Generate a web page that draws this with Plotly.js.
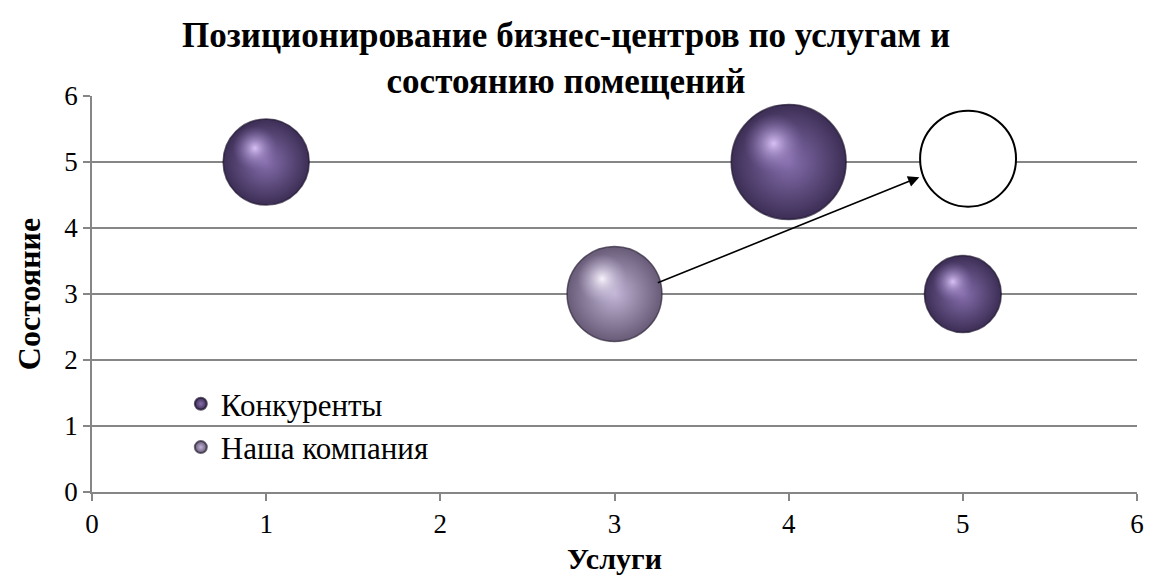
<!DOCTYPE html>
<html>
<head>
<meta charset="utf-8">
<script src="https://cdn.plot.ly/plotly-3.0.1.min.js"></script>
<style>.modebar-container{display:none !important;}</style>
</head>
<body style="margin:0;background:#fff">
<div id="chart" style="width:1149px;height:587px"></div>
<script>
// ---- data ----
const seriesNames = ["Конкуренты", "Наша компания"];
const compX = [1, 4, 5];
const compY = [5, 5, 3];
const compSize = [7.4, 13.2, 5.9];
const ourX = [3];
const ourY = [3];
const ourSize = [9.0];
const targetX = [5.03];
const targetY = [5.05];
const targetSize = [9.2];
const arrowFrom = [3.24, 3.16];
const arrowTo = [4.75, 4.77];
const xTicks = [0, 1, 2, 3, 4, 5, 6];
const yTicks = [0, 1, 2, 3, 4, 5, 6];
const titleText = "Позиционирование бизнес-центров по услугам и<br>состоянию помещений";
const xTitle = "Услуги";
const yTitle = "Состояние";

const SERIF = "Liberation Serif";
const SREF = 0.002;
// plot geometry (px per data unit) used only for the sphere highlight decoration
const PX_X = 1045 / 6, PX_Y = 396 / 6;
function diam(v) { return Math.sqrt(v / 0.001); }
function glint(xs, ys, ss, cIn, cOut) {
  return {
    type: "scatter", mode: "markers", showlegend: false, hoverinfo: "skip",
    x: xs.map((x, i) => x - 0.13 * diam(ss[i]) / PX_X),
    y: ys.map((y, i) => y + 0.16 * diam(ss[i]) / PX_Y),
    marker: {size: ss.map(s => 0.52 * diam(s)), sizemode: "diameter", color: cOut, opacity: 1,
      gradient: {type: "radial", color: cIn}, line: {width: 0}}
  };
}

const traces = [
  {
    type: "scatter", mode: "markers", name: seriesNames[0],
    x: compX, y: compY,
    marker: {size: compSize, sizemode: "area", sizeref: SREF, color: "#3c2e55", opacity: 1,
      gradient: {type: "radial", color: "#876fae"}, line: {width: 1.5, color: "rgba(30,20,45,0.7)"}},
    hoverinfo: "skip"
  },
  {
    type: "scatter", mode: "markers", name: seriesNames[1],
    x: ourX, y: ourY,
    marker: {size: ourSize, sizemode: "area", sizeref: SREF, color: "#675b78", opacity: 1,
      gradient: {type: "radial", color: "#c2b5d6"}, line: {width: 1.5, color: "rgba(45,36,56,0.7)"}},
    hoverinfo: "skip"
  },
  glint(compX, compY, compSize, "rgba(220,198,250,0.95)", "rgba(135,111,174,0)"),
  glint(ourX, ourY, ourSize, "rgba(252,248,255,0.95)", "rgba(194,181,214,0)"),
  {
    type: "scatter", mode: "markers", showlegend: false,
    x: targetX, y: targetY,
    marker: {size: targetSize, sizemode: "area", sizeref: SREF, color: "#ffffff", opacity: 1,
      line: {width: 2, color: "#000"}},
    hoverinfo: "skip"
  }
];

const axisCommon = {
  range: [0, 6], showline: true, linecolor: "#868686", linewidth: 1.5,
  ticks: "outside", ticklen: 7, tickcolor: "#868686", tickwidth: 1.5,
  tickfont: {family: SERIF, size: 27, color: "#000"}, zeroline: false,
  fixedrange: true
};

const layout = {
  width: 1149, height: 587,
  margin: {l: 92, r: 12, t: 96, b: 95},
  paper_bgcolor: "#fff", plot_bgcolor: "#fff",
  font: {family: SERIF},
  title: {text: titleText, x: 0.4536, xref: "paper", xanchor: "center",
    y: 1 - 47/587, yref: "container", yanchor: "top",
    font: {family: SERIF, size: 35, color: "#000", weight: "bold"}},
  xaxis: Object.assign({}, axisCommon, {tickvals: xTicks, showgrid: false,
    title: {text: "<b>" + xTitle + "</b>", font: {family: SERIF, size: 30, color: "#000"}, standoff: 10}}),
  yaxis: Object.assign({}, axisCommon, {tickvals: yTicks, showgrid: true,
    gridcolor: "#868686", gridwidth: 1.5,
    title: {text: "<b>" + yTitle + "</b>", font: {family: SERIF, size: 32, color: "#000"}, standoff: 14}}),
  showlegend: true,
  legend: {x: 0.085, y: 0.29, xanchor: "left", yanchor: "top", bgcolor: "rgba(0,0,0,0)",
    font: {family: SERIF, size: 31, color: "#000"}, itemsizing: "constant", tracegroupgap: 0},
  shapes: [{type: "rect", xref: "paper", yref: "paper", x0: 0.0316, x1: 0.39, y0: 0.081, y1: 0.245,
    fillcolor: "#fff", line: {width: 0}, layer: "between"}],
  annotations: [{
    x: arrowTo[0], y: arrowTo[1], ax: arrowFrom[0], ay: arrowFrom[1],
    xref: "x", yref: "y", axref: "x", ayref: "y",
    showarrow: true, arrowhead: 2, arrowsize: 1.4, arrowwidth: 1.6, arrowcolor: "#000", text: ""
  }]
};

function forceSerif() {
  document.querySelectorAll("#chart text, #chart tspan").forEach(function (t) {
    t.setAttribute("font-family", "Liberation Serif");
    t.style.setProperty("font-family", "'Liberation Serif', serif", "important");
  });
}

const gd = document.getElementById("chart");
Plotly.newPlot(gd, traces, layout).then(function () {
  forceSerif();
  gd.on("plotly_afterplot", forceSerif);
});
</script>
</body>
</html>
